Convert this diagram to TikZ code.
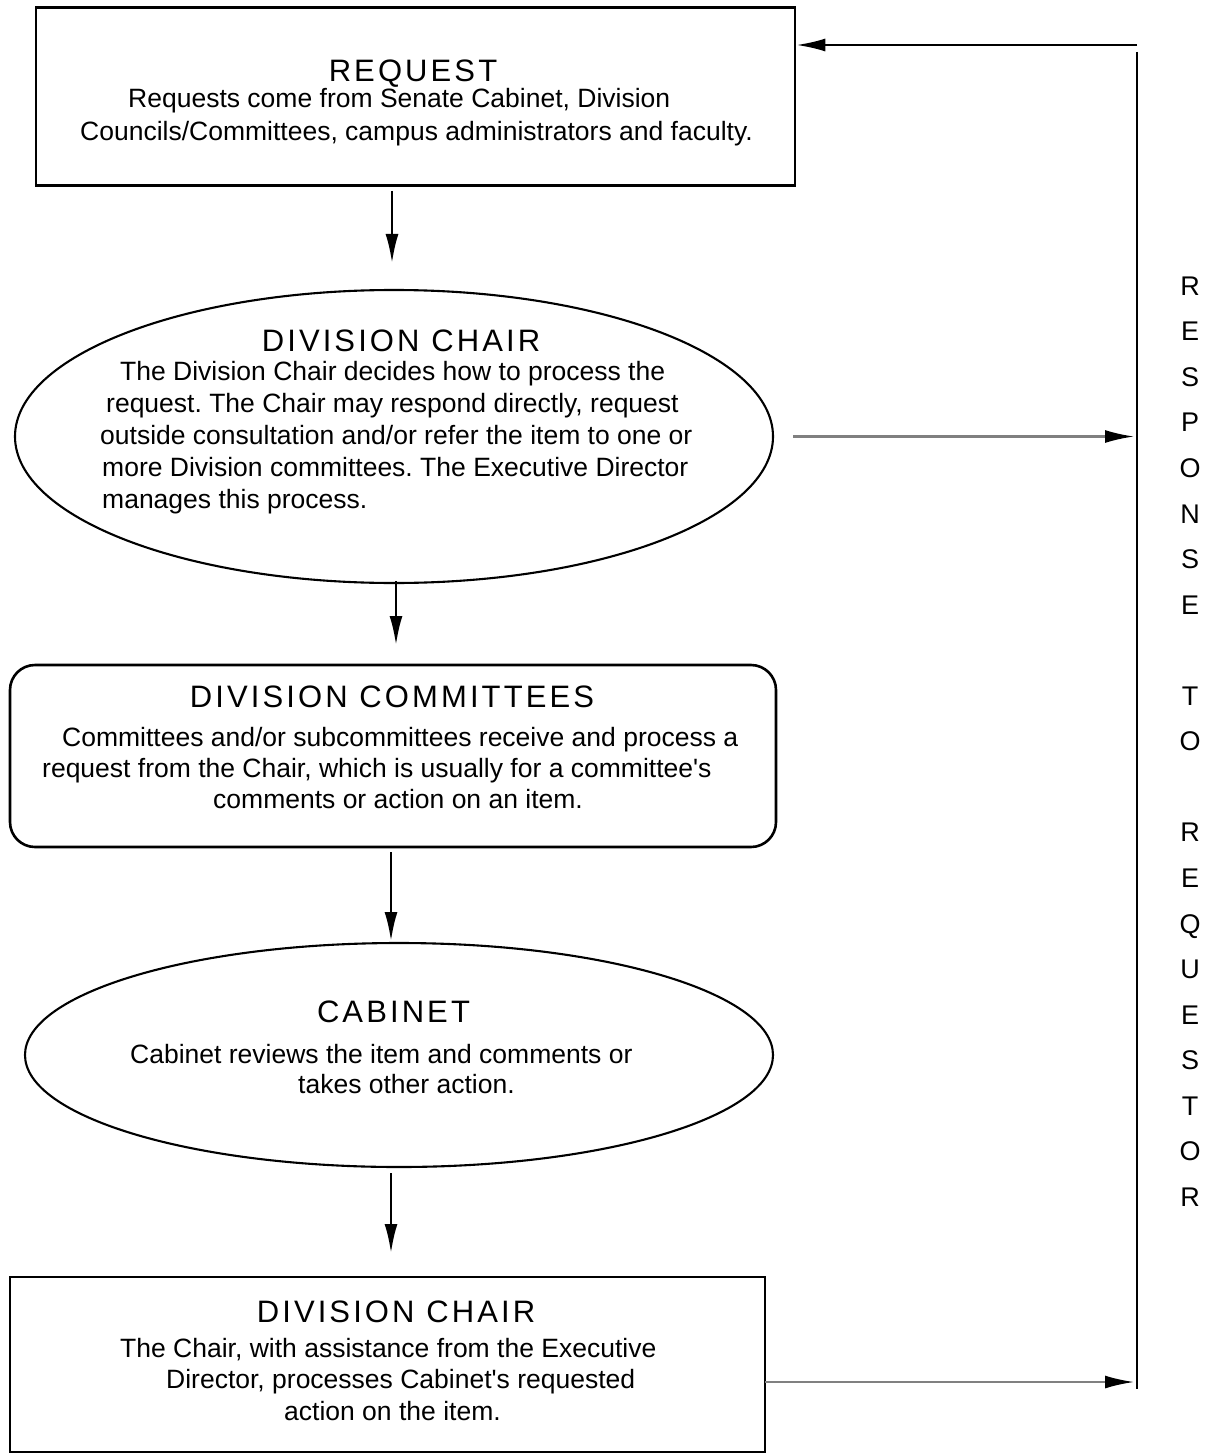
\documentclass[tikz,border=0pt]{standalone}
\usepackage{fontspec}
\setmainfont{Liberation Sans}[Ligatures=TeXOff]
\newfontfamily\titlefont{Liberation Sans}[LetterSpace=10]
\usetikzlibrary{shapes.geometric,arrows.meta}
\frenchspacing
\begin{document}
\begin{tikzpicture}[x=1pt,y=-1pt,
  frame/.style={draw, line width=2.6pt, inner sep=0pt},
  oval/.style={draw, ellipse, line width=2.1pt, inner sep=0pt},
  titletext/.style={font=\titlefont\fontsize{31}{38}\selectfont, inner sep=0pt, anchor=base},
  bodytext/.style={font=\frenchspacing\fontsize{26.5}{#1}\selectfont, align=left, inner sep=0pt, anchor=north west},
  arr/.style={line width=2.4pt, -{Latex[length=29pt,width=13pt]}},
  grayarr/.style={draw=black!50, line width=2.2pt, -{Latex[length=29pt,width=13pt,color=black]}},
  plain/.style={line width=2.5pt},
  resptext/.style={font=\fontsize{27}{45.55}\selectfont, align=center, inner sep=0pt}
]
\useasboundingbox (0,0) rectangle (1212,1455);

% shapes
\node[frame, minimum width=759pt, minimum height=178pt] (req) at (415.5,96.5) {};
\node[oval, minimum width=758pt, minimum height=293pt] (e1) at (394,436.5) {};
\node[frame, rounded corners=25pt, minimum width=766pt, minimum height=182pt] (com) at (393,756) {};
\node[oval, minimum width=748pt, minimum height=224pt] (cab) at (399,1055) {};
\node[frame, minimum width=755pt, minimum height=175pt] (dc2) at (387.5,1364.5) {};

% texts
\node[titletext] (reqt) at (413,82) {REQUEST};
\node[bodytext=33] (reqb) at (80,88) {\hspace*{48pt}Requests come from Senate Cabinet, Division\\Councils/Committees, campus administrators and faculty.};

\node[titletext] (e1t) at (401,351) {DIVISION CHAIR};
\node[bodytext=32] (e1b) at (100,361) {\hspace*{20pt}The Division Chair decides how to process the\\\hspace*{6pt}request. The Chair may respond directly, request\\outside consultation and/or refer the item to one or\\\hspace*{2pt}more Division committees. The Executive Director\\\hspace*{2pt}manages this process.};

\node[titletext] (comt) at (392,707) {DIVISION COMMITTEES};
\node[bodytext=31] (comb) at (42,727) {\hspace*{20pt}Committees and/or subcommittees receive and process a\\request from the Chair, which is usually for a committee's\\\hspace*{171pt}comments or action on an item.};

\node[titletext] (cabt) at (393.5,1022) {CABINET};
\node[bodytext=30] (cabb) at (130,1044) {Cabinet reviews the item and comments or\\\hspace*{168pt}takes other action.};

\node[titletext] (dc2t) at (396,1322) {DIVISION CHAIR};
\node[bodytext=31.5] (dc2b) at (120,1338) {The Chair, with assistance from the Executive\\\hspace*{46pt}Director, processes Cabinet's requested\\\hspace*{164pt}action on the item.};

\node[resptext] (resp) at (1190,741.5) {R\\E\\S\\P\\O\\N\\S\\E\\\mbox{}\\T\\O\\\mbox{}\\R\\E\\Q\\U\\E\\S\\T\\O\\R};

% main flow
\draw[arr, shorten <=4pt, shorten >=27pt] (req.south -| 392,0) -- (392,290);
\draw[arr, shorten <=-3pt, shorten >=20pt] (e1.south -| 396,0) -- (396,665);
\draw[arr, shorten <=4pt, shorten >=2pt] (com.south -| 391,0) -- (391,943);
\draw[arr, shorten <=5pt, shorten >=24pt] (cab.south -| 391,0) -- (391,1277);

% response loop
\coordinate (tr) at (1137,45);
\coordinate (vtop) at (1137,52);
\coordinate (vbot) at (1137,1389);
\coordinate (dcout) at (765,1382);
\draw[arr] (tr) -- (tr -| req.east);
\draw[plain] (vtop) -- (vbot);
\draw[grayarr, shorten <=19pt, shorten >=3pt] (e1.east) -- (e1.east -| vbot);
\draw[grayarr, shorten >=3pt] (dcout) -- (dcout -| vbot);
\end{tikzpicture}
\end{document}
